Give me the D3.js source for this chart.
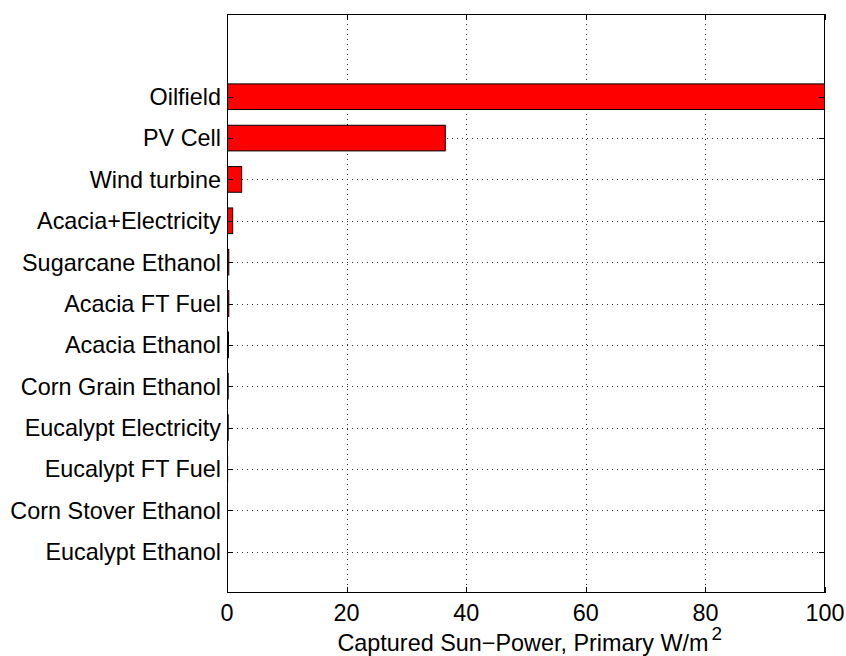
<!DOCTYPE html>
<html lang="en">
<head>
    <meta charset="UTF-8">
    <title>Captured Sun-Power</title>
    <script src="https://cdnjs.cloudflare.com/ajax/libs/d3/7.8.5/d3.min.js"></script>
    <style>
        body { margin: 0; background: #fff; }
        svg text { font-family: "Liberation Sans", Arial, Helvetica, sans-serif; fill: #000; }
    </style>
</head>
<body>
    <svg width="846" height="656"></svg>
    <script>
        "use strict";

        // bottom to top, same order as the MATLAB barh call
        const categories = [
            "Eucalypt Ethanol",
            "Corn Stover Ethanol",
            "Eucalypt FT Fuel",
            "Eucalypt Electricity",
            "Corn Grain Ethanol",
            "Acacia Ethanol",
            "Acacia FT Fuel",
            "Sugarcane Ethanol",
            "Acacia+Electricity",
            "Wind turbine",
            "PV Cell",
            "Oilfield",
        ];
        const values = [0.06, 0.08, 0.1, 0.2, 0.2, 0.25, 0.3, 0.3, 0.95, 2.45, 36.5, 100];
        const xTicks = [0, 20, 40, 60, 80, 100];
        const xLabel = "Captured Sun\u2212Power, Primary W/m";

        const svg = d3.select("svg");
        const plotL = 227, plotR = 825, plotT = 14, plotB = 593;
        const fs = 23.4;

        const x = d3.scaleLinear().domain([0, 100]).range([plotL, plotR]);
        const y = d3.scaleLinear().domain([0, 14]).range([plotB, plotT]);
        const yTicks = categories.map((d, i) => i + 1);
        const barH = y(0) - y(0.62);

        svg.append("defs").append("clipPath").attr("id", "plot")
            .append("rect")
            .attr("x", plotL).attr("y", plotT)
            .attr("width", plotR - plotL).attr("height", plotB - plotT);

        // dotted grid
        const grid = svg.append("g")
            .attr("stroke", "#333")
            .attr("stroke-width", 1)
            .attr("stroke-dasharray", "1,4");
        grid.selectAll(".gx").data(xTicks.slice(1, -1)).enter().append("line")
            .attr("x1", d => Math.round(x(d)) + 0.5).attr("x2", d => Math.round(x(d)) + 0.5)
            .attr("y1", plotT).attr("y2", plotB);
        grid.selectAll(".gy").data(yTicks).enter().append("line")
            .attr("y1", d => Math.round(y(d)) + 0.5).attr("y2", d => Math.round(y(d)) + 0.5)
            .attr("x1", plotL).attr("x2", plotR);

        // bars
        svg.append("g")
            .attr("clip-path", "url(#plot)")
            .selectAll("rect")
            .data(values)
            .enter()
            .append("rect")
            .attr("x", x(0))
            .attr("y", (d, i) => y(i + 1) - barH / 2)
            .attr("width", d => x(d) - x(0))
            .attr("height", barH)
            .attr("fill", "#ff0000")
            .attr("stroke", "#000")
            .attr("stroke-width", 1);

        // axes box + inward ticks
        const axes = svg.append("g").attr("stroke", "#000").attr("fill", "none");
        axes.append("rect")
            .attr("x", plotL + 0.5).attr("y", plotT + 0.5)
            .attr("width", plotR - plotL - 1).attr("height", plotB - plotT - 1);
        const tk = 6;
        xTicks.forEach(t => {
            const px = Math.round(x(t)) + 0.5;
            axes.append("line").attr("x1", px).attr("x2", px).attr("y1", plotB).attr("y2", plotB - tk);
            axes.append("line").attr("x1", px).attr("x2", px).attr("y1", plotT).attr("y2", plotT + tk);
        });
        yTicks.forEach(t => {
            const py = Math.round(y(t)) + 0.5;
            axes.append("line").attr("y1", py).attr("y2", py).attr("x1", plotL).attr("x2", plotL + tk);
            axes.append("line").attr("y1", py).attr("y2", py).attr("x1", plotR).attr("x2", plotR - tk);
        });

        // tick labels
        svg.append("g").selectAll("text").data(xTicks).enter().append("text")
            .attr("x", d => x(d))
            .attr("y", 621)
            .attr("text-anchor", "middle")
            .attr("font-size", fs)
            .text(d => d);

        svg.append("g").selectAll("text").data(categories).enter().append("text")
            .attr("x", plotL - 6)
            .attr("y", (d, i) => y(i + 1))
            .attr("dy", "0.36em")
            .attr("text-anchor", "end")
            .attr("font-size", fs)
            .text(d => d);

        // x label, superscript placed just after it
        const lab = svg.append("text")
            .attr("x", 523)
            .attr("y", 651)
            .attr("text-anchor", "middle")
            .attr("font-size", fs)
            .text(xLabel);
        const labEnd = lab.node().getBBox().x + lab.node().getBBox().width;
        svg.append("text")
            .attr("x", labEnd + 3)
            .attr("y", 640)
            .attr("font-size", 19)
            .text("2");
    </script>
</body>
</html>
